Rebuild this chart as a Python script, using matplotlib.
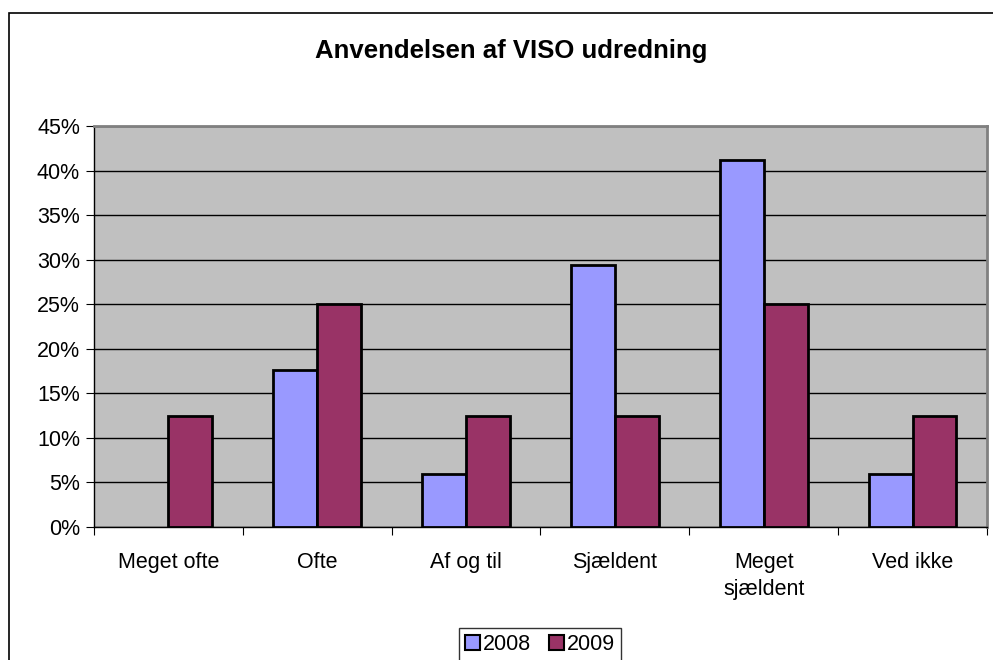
import matplotlib
matplotlib.use("Agg")
import matplotlib.pyplot as plt
from matplotlib.patches import Rectangle, Patch
import numpy as np

plt.rcParams['font.family'] = ['Liberation Sans', 'DejaVu Sans']

categories = ["Meget ofte", "Ofte", "Af og til", "Sjældent", "Meget\nsjældent", "Ved ikke"]
series_names = ["2008", "2009"]
values_2008 = [0.0, 17.6, 5.9, 29.4, 41.2, 5.9]
values_2009 = [12.5, 25.0, 12.5, 12.5, 25.0, 12.5]
yticks = [0, 5, 10, 15, 20, 25, 30, 35, 40, 45]
title = "Anvendelsen af VISO udredning"

colors = ["#9999FF", "#993366"]
fs = 15.5

W, H = 993, 660
fig = plt.figure(figsize=(W/100, H/100), dpi=100)
ax = fig.add_axes([94/W, 1-527/H, (987-94)/W, (527-126)/H])
ax.set_facecolor("#C0C0C0")

x = np.arange(len(categories))
bw = 0.295
lw08 = [2 if v > 0 else 0 for v in values_2008]
lw09 = [2 if v > 0 else 0 for v in values_2009]
ax.bar(x - bw/2, values_2008, width=bw, color=colors[0], edgecolor="black", linewidth=lw08, zorder=3)
ax.bar(x + bw/2, values_2009, width=bw, color=colors[1], edgecolor="black", linewidth=lw09, zorder=3)

ax.set_xlim(-0.5, len(categories) - 0.5)
ax.set_ylim(0, 45)
ax.set_yticks(yticks)
ax.set_yticklabels([f"{t}%" for t in yticks], fontsize=fs)
ax.yaxis.grid(True, color="black", linewidth=1, zorder=1)
ax.set_axisbelow(True)

ax.set_xticks(np.arange(len(categories) + 1) - 0.5)
ax.set_xticklabels([])
ax.set_xticks(x, minor=True)
ax.set_xticklabels(categories, minor=True, fontsize=fs, va="top", linespacing=1.4)
ax.tick_params(axis="x", which="minor", length=0, pad=18)
ax.tick_params(axis="x", which="major", length=6, direction="out", color="black")
ax.tick_params(axis="y", length=6, direction="out", pad=4)

for side in ["top", "right"]:
    ax.spines[side].set_color("#808080")
    ax.spines[side].set_linewidth(2)
ax.spines["left"].set_color("black")
ax.spines["bottom"].set_color("black")
ax.spines["left"].set_linewidth(1)
ax.spines["bottom"].set_linewidth(1)

fig.text(511/W, 1-51/H, title, ha="center", va="center", fontsize=18.5, fontweight="bold")

handles = [Patch(facecolor=colors[0], edgecolor="black", linewidth=1.5),
           Patch(facecolor=colors[1], edgecolor="black", linewidth=1.5)]
leg = fig.legend(handles, series_names, loc="upper center", bbox_to_anchor=(540/W, 1-617/H),
                 ncol=2, frameon=True, fontsize=fs, handlelength=0.7, handleheight=0.7,
                 handletextpad=0.15, columnspacing=0.8, borderpad=0.3, fancybox=False)
leg.get_frame().set_edgecolor("black")
leg.get_frame().set_linewidth(1)

fig.patches.append(Rectangle((9/W, -0.1), 1.2, 1 - 13/H + 0.1, transform=fig.transFigure,
                             fill=False, edgecolor="black", linewidth=1.2))

fig.savefig("out.png", dpi=100)
